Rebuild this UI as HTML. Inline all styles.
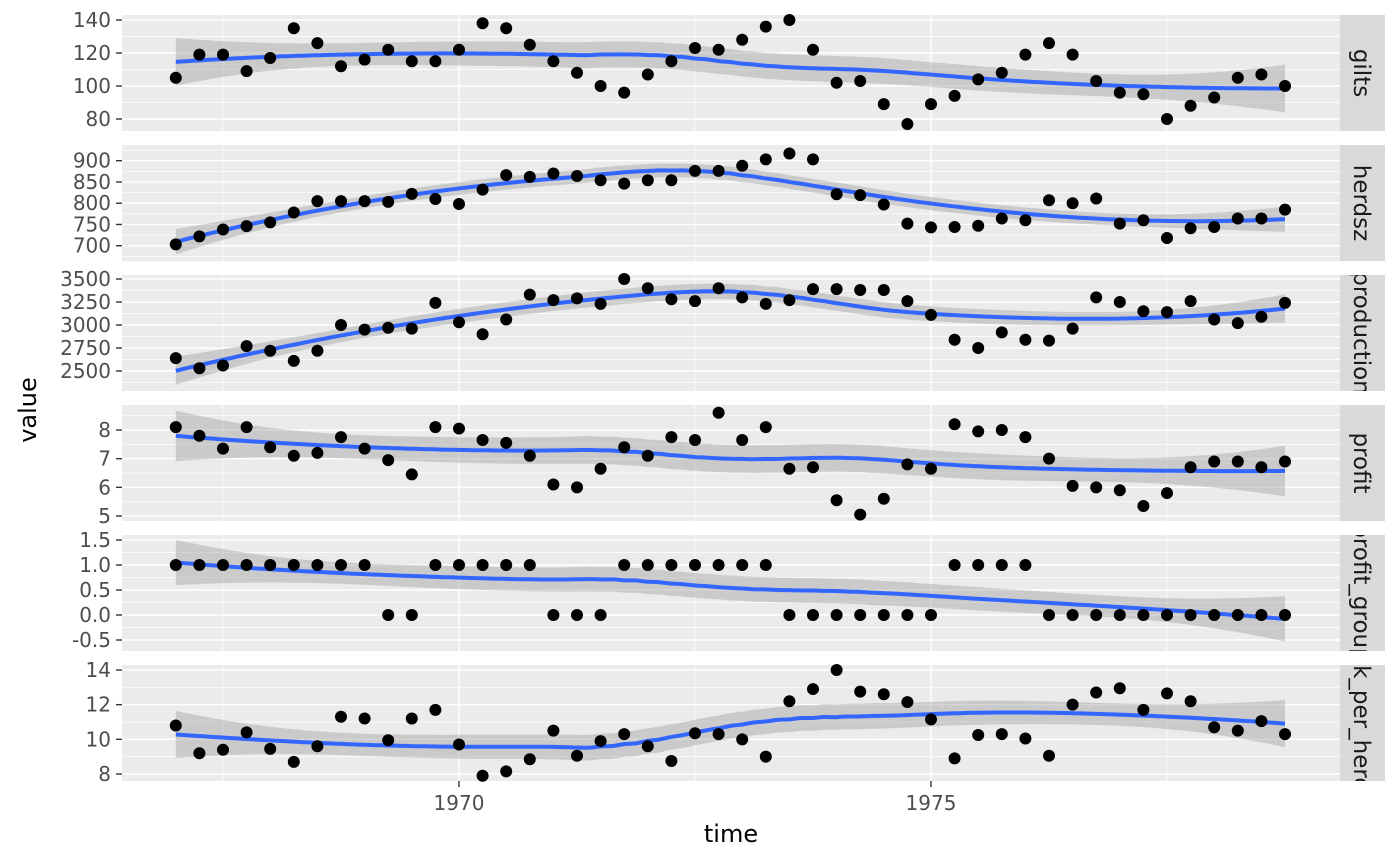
<!DOCTYPE html>
<html><head><meta charset="utf-8"><style>body{margin:0;background:#fff}svg{display:block}</style></head>
<body><svg id="s" width="1400" height="865" xmlns="http://www.w3.org/2000/svg" font-family="DejaVu Sans, Liberation Sans, sans-serif"></svg>
<script>
const S=document.getElementById('s');let h='';
const X0=122,X1=1340;const xp=t=>459+(t-1970)*94.4;
const T=[];for(let i=0;i<48;i++)T.push(1967+i*0.25);
const P=[
{name:'gilts',top:15,a:140,ay:20,b:80,by:119,ticks:[140,120,100,80],lab:['140','120','100','80'],
d:[105,119,119,109,117,135,126,112,116,122,115,115,122,138,135,125,115,108,100,96,107,115,123,122,128,136,140,122,102,103,89,77,89,94,104,108,119,126,119,103,96,95,80,88,93,105,107,100]},
{name:'herdsz',top:145,a:900,ay:160.7,b:700,by:245.7,ticks:[900,850,800,750,700],lab:['900','850','800','750','700'],
d:[703,722,738,746,755,778,805,805,805,803,822,810,798,832,866,862,870,864,854,846,854,854,876,876,888,903,917,903,821,819,797,752,743,744,747,764,760,807,800,811,752,760,718,741,744,764,764,785]},
{name:'production',top:275,a:3500,ay:279,b:2500,by:371,ticks:[3500,3250,3000,2750,2500],lab:['3500','3250','3000','2750','2500'],
d:[2640,2530,2560,2770,2720,2610,2720,3000,2950,2970,2960,3240,3030,2900,3060,3330,3270,3290,3230,3500,3400,3280,3260,3400,3300,3230,3270,3390,3390,3380,3380,3260,3110,2840,2750,2920,2840,2830,2960,3300,3250,3150,3140,3260,3060,3020,3090,3240]},
{name:'profit',top:405,a:8,ay:430,b:5,by:516,ticks:[8,7,6,5],lab:['8','7','6','5'],
d:[8.1,7.8,7.35,8.1,7.4,7.1,7.2,7.75,7.35,6.95,6.45,8.1,8.05,7.65,7.55,7.1,6.1,6.0,6.65,7.4,7.1,7.75,7.65,8.6,7.65,8.1,6.65,6.7,5.55,5.05,5.6,6.8,6.65,8.2,7.95,8.0,7.75,7.0,6.05,6.0,5.9,5.35,5.8,6.7,6.9,6.9,6.7,6.9]},
{name:'profit_group',top:535,a:1.5,ay:540,b:-0.5,by:640,ticks:[1.5,1,0.5,0,-0.5],lab:['1.5','1.0','0.5','0.0','-0.5'],
d:[1,1,1,1,1,1,1,1,1,0,0,1,1,1,1,1,0,0,0,1,1,1,1,1,1,1,0,0,0,0,0,0,0,1,1,1,1,0,0,0,0,0,0,0,0,0,0,0]},
{name:'milk_per_herdsz',top:665,a:14,ay:670,b:8,by:774,ticks:[14,12,10,8],lab:['14','12','10','8'],
d:[10.8,9.2,9.4,10.4,9.45,8.7,9.6,11.3,11.2,9.95,11.2,11.7,9.7,7.9,8.15,8.85,10.5,9.05,9.9,10.3,9.6,8.75,10.35,10.3,10.0,9.0,12.2,12.9,14.0,12.75,12.6,12.15,11.15,8.9,10.25,10.3,10.05,9.05,12.0,12.7,12.95,11.7,12.65,12.2,10.7,10.5,11.05,10.3]}];
function solve3(A,b){const M=A.map((r,i)=>[...r,b[i]]);for(let i=0;i<3;i++){let p=i;for(let k=i+1;k<3;k++)if(Math.abs(M[k][i])>Math.abs(M[p][i]))p=k;[M[i],M[p]]=[M[p],M[i]];for(let k=0;k<3;k++)if(k!=i){const f=M[k][i]/M[i][i];for(let j=i;j<4;j++)M[k][j]-=f*M[i][j];}}return [M[0][3]/M[0][0],M[1][3]/M[1][1],M[2][3]/M[2][2]];}
function Lvec(x0){const n=T.length,q=Math.floor(0.75*n);const ds=T.map(t=>Math.abs(t-x0)).sort((a,b)=>a-b);const D=ds[q-1]*1.0001;
const w=T.map(t=>{const u=Math.abs(t-x0)/D;return u<1?Math.pow(1-u*u*u,3):0});
const A=[[0,0,0],[0,0,0],[0,0,0]];T.forEach((t,i)=>{const z=[1,t-x0,(t-x0)**2];for(let a=0;a<3;a++)for(let b=0;b<3;b++)A[a][b]+=w[i]*z[a]*z[b];});
const e=solve3(A,[1,0,0]);return T.map((t,i)=>w[i]*(e[0]+e[1]*(t-x0)+e[2]*(t-x0)**2));}
const grid=[];for(let k=0;k<=200;k++)grid.push(1967+k*11.75/200);
const Lg=grid.map(Lvec),Lt=T.map(Lvec);
let trL=0;Lt.forEach((l,i)=>{trL+=l[i];});
P.forEach(p=>{
const k=(p.by-p.ay)/(p.b-p.a);const yp=v=>p.ay+(v-p.a)*k;const top=p.top,bot=p.top+116;
h+=`<rect x="${X0}" y="${top}" width="${X1-X0}" height="116" fill="#ebebeb"/>`;
h+=`<rect x="1340" y="${top}" width="45" height="116" fill="#d9d9d9"/>`;
for(let i=0;i<p.ticks.length+1;i++){const v=p.ticks[0]+(p.ticks[1]-p.ticks[0])*(i-0.5);const y=yp(v);if(y>top&&y<bot)h+=`<line x1="${X0}" x2="${X1}" y1="${y}" y2="${y}" stroke="#fff" stroke-width="0.7"/>`;}
[1967.5,1972.5,1977.5].forEach(t=>h+=`<line x1="${xp(t)}" x2="${xp(t)}" y1="${top}" y2="${bot}" stroke="#fff" stroke-width="0.7"/>`);
p.ticks.forEach((v,i)=>{const y=yp(v);h+=`<line x1="${X0}" x2="${X1}" y1="${y}" y2="${y}" stroke="#fff" stroke-width="1.4"/>`;
h+=`<line x1="116" x2="122" y1="${y}" y2="${y}" stroke="#333" stroke-width="1.4"/>`;
h+=`<text x="111" y="${y+7}" text-anchor="end" font-size="20" fill="#4d4d4d">${p.lab[i]}</text>`;});
[1970,1975].forEach(t=>h+=`<line x1="${xp(t)}" x2="${xp(t)}" y1="${top}" y2="${bot}" stroke="#fff" stroke-width="1.4"/>`);
const y=p.d;const fitT=Lt.map(l=>l.reduce((s,v,i)=>s+v*y[i],0));let rss=0;fitT.forEach((f,i)=>rss+=(y[i]-f)**2);
const sig=Math.sqrt(rss/(48-trL*1.2));
const up=[],lo=[],mid=[];grid.forEach((g,j)=>{const l=Lg[j];const f=l.reduce((s,v,i)=>s+v*y[i],0);const se=sig*Math.sqrt(l.reduce((s,v)=>s+v*v,0))*2.01;
mid.push(xp(g).toFixed(1)+','+yp(f).toFixed(1));up.push(xp(g).toFixed(1)+','+yp(f+se).toFixed(1));lo.unshift(xp(g).toFixed(1)+','+yp(f-se).toFixed(1));});
h+=`<polygon points="${up.concat(lo).join(' ')}" fill="#999" fill-opacity="0.4"/>`;
h+=`<polyline points="${mid.join(' ')}" fill="none" stroke="#3366ff" stroke-width="4" stroke-linejoin="round"/>`;
y.forEach((v,i)=>h+=`<circle cx="${xp(T[i])}" cy="${yp(v)}" r="6" fill="#000"/>`);
h+=`<clipPath id="c${top}"><rect x="1340" y="${top}" width="45" height="116"/></clipPath>`;
h+=`<g clip-path="url(#c${top})"><text transform="translate(1354,${top+58}) rotate(90)" text-anchor="middle" font-size="23" fill="#1a1a1a">${p.name}</text></g>`;
});
[1970,1975].forEach(t=>{h+=`<line x1="${xp(t)}" x2="${xp(t)}" y1="781" y2="787" stroke="#333" stroke-width="1.4"/><text x="${xp(t)}" y="810" text-anchor="middle" font-size="20" fill="#4d4d4d">${t}</text>`;});
h+=`<text x="731" y="842" text-anchor="middle" font-size="24" fill="#000">time</text>`;
h+=`<text transform="translate(36,410) rotate(-90)" text-anchor="middle" font-size="24" fill="#000">value</text>`;
S.innerHTML=h;
</script></body></html>
